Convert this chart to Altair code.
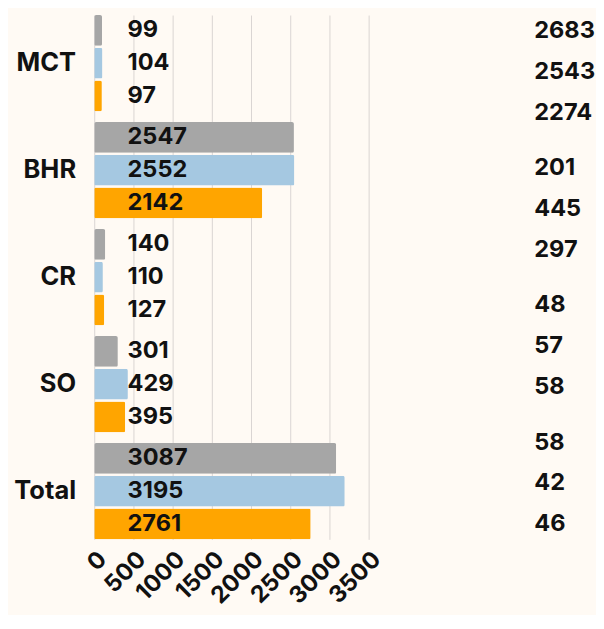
import altair as alt
import pandas as pd

categories = ["MCT", "BHR", "CR", "SO", "Total"]
series = ["S1", "S2", "S3"]
grey_vals = [99, 2547, 140, 301, 3087]
blue_vals = [104, 2552, 110, 429, 3195]
orange_vals = [97, 2142, 127, 395, 2761]
colors = ["#a6a6a6", "#a5c8e1", "#ffa500"]
x_ticks = [0, 500, 1000, 1500, 2000, 2500, 3000, 3500]

side_groups = ["G1", "G2", "G3", "G4"]
side_values = [[2683, 2543, 2274], [201, 445, 297], [48, 57, 58], [58, 42, 46]]

rows = []
for s, vals in zip(series, [grey_vals, blue_vals, orange_vals]):
    for c, v in zip(categories, vals):
        rows.append({"cat": c, "series": s, "value": v, "zero": 0})
df = pd.DataFrame(rows)

side_rows = []
for g, vals in zip(side_groups, side_values):
    for i, v in enumerate(vals):
        side_rows.append({"grp": g, "idx": i, "value": v})
side_df = pd.DataFrame(side_rows)

FONT = "Inter"
H = 535

x_axis = alt.Axis(values=x_ticks, format="d", labelOverlap=False,
                  labelAngle=-45, labelFontSize=24, labelFontWeight="bold",
                  labelColor="#111", labelFont=FONT, labelPadding=8,
                  ticks=False, domain=False, gridColor="#d9d4d2", gridWidth=1)
x_scale = alt.Scale(domain=[0, 3500], nice=False)

y_enc = alt.Y("cat:N", sort=categories, title=None,
              scale=alt.Scale(type="band", paddingInner=0.1, paddingOuter=0),
              axis=alt.Axis(labelFontSize=26, labelFontWeight="bold", labelColor="#111",
                            labelFont=FONT, labelPadding=19, ticks=False, domain=False))
yoff = alt.YOffset("series:N", sort=series,
                   scale=alt.Scale(type="band", paddingInner=0.06, paddingOuter=0))

bars = alt.Chart(df).mark_bar(cornerRadius=2).encode(
    x=alt.X("value:Q", title=None, scale=x_scale, axis=x_axis),
    y=y_enc,
    yOffset=yoff,
    color=alt.Color("series:N", sort=series, legend=None,
                    scale=alt.Scale(domain=series, range=colors)),
)

labels = alt.Chart(df).mark_text(align="left", baseline="middle", dx=34,
                                 fontSize=24, fontWeight="bold", font=FONT, color="#111").encode(
    x=alt.X("zero:Q", title=None, scale=x_scale, axis=x_axis),
    y=y_enc,
    yOffset=yoff,
    text=alt.Text("value:Q"),
)

main = alt.layer(bars, labels)

side = alt.Chart(side_df).mark_text(align="left", baseline="middle",
                                    fontSize=24, fontWeight="bold", font=FONT, color="#111").encode(
    x=alt.value(449),
    y=alt.Y("grp:N", sort=side_groups, axis=None,
            scale=alt.Scale(type="band", paddingInner=0, paddingOuter=0, range=[-12, 548])),
    yOffset=alt.YOffset("gidx:N",
                        scale=alt.Scale(type="band", paddingInner=0, paddingOuter=0.18)),
    text=alt.Text("value:Q"),
).transform_calculate(gidx="'i' + datum.idx")

chart = alt.layer(main, side).resolve_scale(
    y="independent", yOffset="independent"
).properties(
    width=280, height=H,
    background="#fffaf4",
    padding={"left": 5, "top": 0, "right": 0, "bottom": 0},
).configure_view(stroke=None)

chart.save("out.html", embed_options={"renderer": "svg", "actions": False})
